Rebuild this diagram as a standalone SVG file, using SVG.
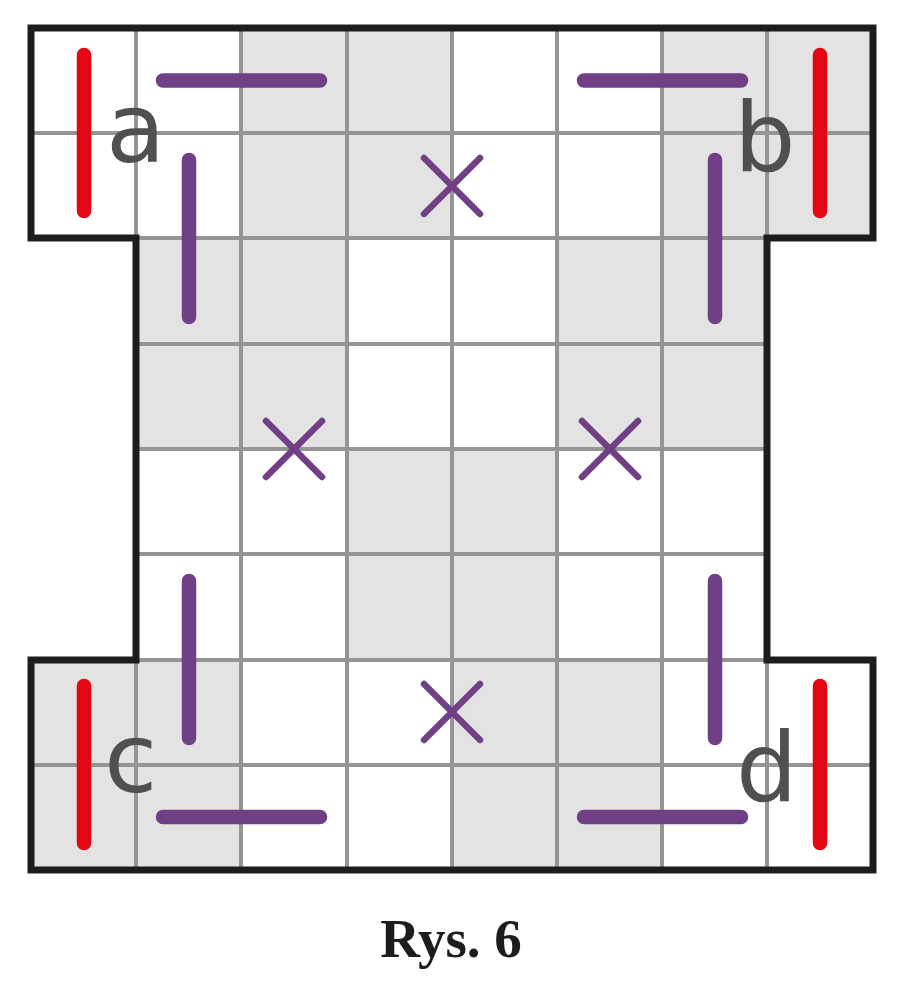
<svg xmlns="http://www.w3.org/2000/svg" width="900" height="988" viewBox="0 0 900 988">
<style>
.s{fill:#e3e3e4}
.g{stroke:#959595;stroke-width:4;fill:none}
.p{stroke:#713f86;stroke-width:14.5;stroke-linecap:round;fill:none}
.r{stroke:#e30613;stroke-width:14.5;stroke-linecap:round;fill:none}
.x{stroke:#713f86;stroke-width:6.5;stroke-linecap:round;fill:none}
.l{font-family:"DejaVu Sans",sans-serif;font-size:97px;fill:#505050}
</style>
<rect width="900" height="988" fill="#fff"/>
<g id="shading">
<rect class="s" x="241" y="31" width="211" height="207"/>
<rect class="s" x="662" y="31" width="208" height="207"/>
<rect class="s" x="136" y="238" width="211" height="211"/>
<rect class="s" x="557" y="238" width="210" height="211"/>
<rect class="s" x="347" y="449" width="210" height="211"/>
<rect class="s" x="31" y="660" width="210" height="208"/>
<rect class="s" x="452" y="660" width="210" height="208"/>
</g>
<g id="grid" class="g">
<path d="M136 28V238M241 28V870M347 28V870M452 28V870M557 28V870M662 28V870M767 28V238M136 660V870M767 660V870"/>
<path d="M31 133H873M136 238H767M136 344H767M136 449H767M136 554H767M136 660H767M31 765H873"/>
</g>
<g id="labels">
<text id="label-a" class="l" x="106" y="162">a</text>
<text id="label-b" class="l" x="734" y="171">b</text>
<text id="label-c" class="l" x="104" y="792">c</text>
<text id="label-d" class="l" x="736" y="801">d</text>
</g>
<path id="outline" d="M31 28H873V238H767V660H873V870H31V660H136V238H31Z" fill="none" stroke="#1d1d1b" stroke-width="7" stroke-linejoin="miter"/>
<g id="connectors">
<path class="r" d="M84 55V211M820 55V211M84 686V843M820 686V843"/>
<path class="p" d="M163 80.500H320M584 80.500H741M189 160V317M715 160V317M189 581V738M715 581V738M163 817H320M584 817H741"/>
<path class="x" d="M424 158L480 214M480 158L424 214M266 421L322 477M322 421L266 477M582 421L638 477M638 421L582 477M424 684L480 740M480 684L424 740"/>
</g>
<text id="caption" x="451" y="957" text-anchor="middle" font-family="'Liberation Serif','DejaVu Serif',serif" font-weight="700" font-size="55" fill="#1d1d1b">Rys. 6</text>
</svg>
